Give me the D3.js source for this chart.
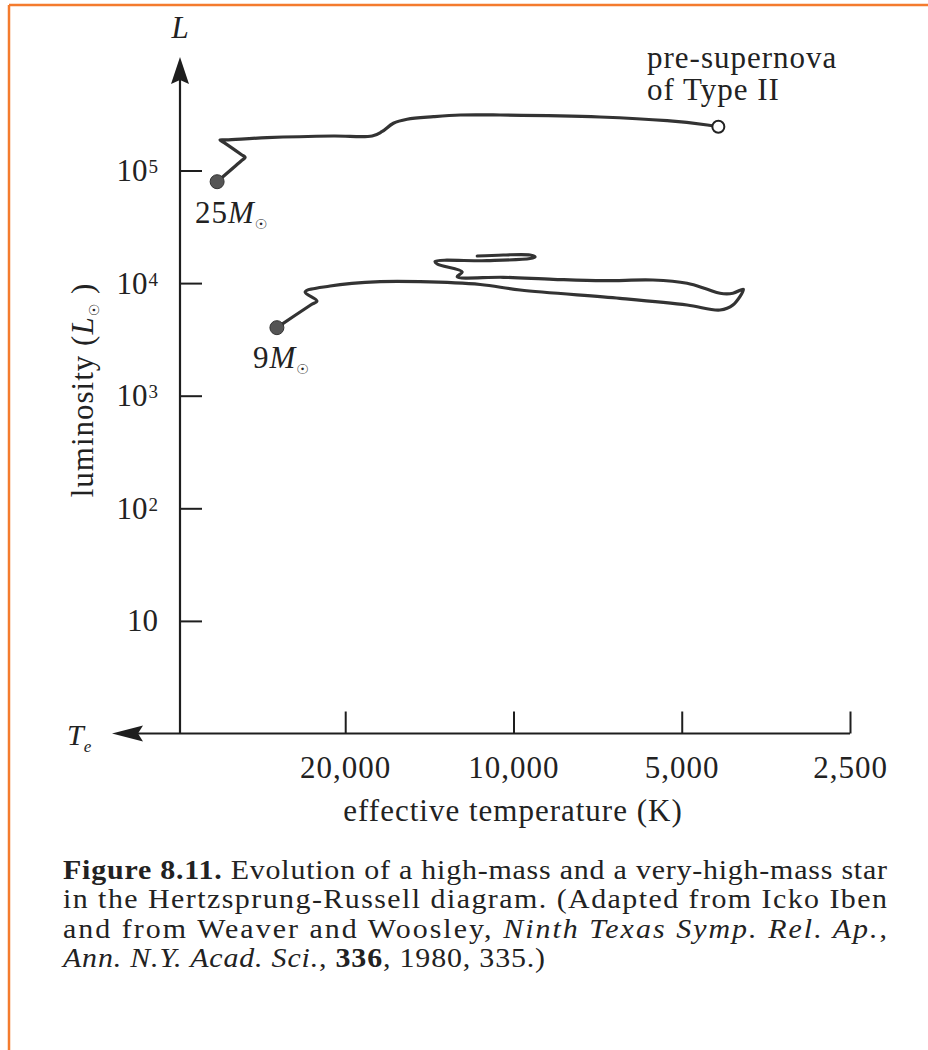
<!DOCTYPE html>
<html>
<head>
<meta charset="utf-8">
<script src="https://cdn.jsdelivr.net/npm/d3@7"></script>
<style>
  html, body { margin: 0; padding: 0; background: #fff; }
  svg { display: block; }
  text { font-family: "Liberation Serif", "DejaVu Serif", serif; fill: #222; }
</style>
</head>
<body>
<div id="chart"></div>
<script>
// effective temperature ticks (K) and luminosity ticks (L_sun)
const tempTicks = [20000, 10000, 5000, 2500];
const tempTickLabels = ["20,000", "10,000", "5,000", "2,500"];
const lumTicks = [10, 100, 1000, 10000, 100000];
const lumTickExp = ["", "2", "3", "4", "5"];

// axis origin
const tempMax = 39500;
const lumMin = 1;

// 25 M_sun track (T in K, L in L_sun)
const track25T = [33900, 30710, 30200, 30650, 32940, 33500, 32650, 27600, 21000, 17900, 17200, 16400, 15500, 13900, 12450, 10560, 7000, 5310, 4500, 4300];
const track25L = [79500, 121450, 131000, 138100, 176900, 186600, 187000, 195600, 202500, 202500, 221000, 262600, 284900, 300500, 311200, 311200, 298700, 276900, 253600, 244900];

// 9 M_sun track
const track9T = [26500, 23060, 22470, 23590, 21280, 17310, 14690, 11470, 9730, 6450, 4890, 4270, 4050, 3880, 4050, 4270, 4500, 4890, 5630, 6910, 8490, 10430, 12610, 12350, 13690, 13810, 11150, 9340, 9150, 9340, 10430, 11610];
const track9L = [4020, 6390, 6940, 8340, 9420, 10290, 10290, 9720, 8680, 7330, 6390, 5770, 6390, 8810, 8120, 8120, 8810, 9960, 10650, 10500, 10810, 11260, 11400, 12550, 14770, 15550, 15810, 16540, 17050, 17770, 17770, 17400];

const width = 928, height = 1050;
const fs = 31, ls = '1px';

const svg = d3.select('#chart')
  .append('svg')
  .attr('width', width)
  .attr('height', height);

// page border
svg.append('line').attr('x1', 9).attr('y1', 5).attr('x2', width).attr('y2', 5)
  .attr('stroke', '#f47b2e').attr('stroke-width', 2.5);
svg.append('line').attr('x1', 9).attr('y1', 5).attr('x2', 9).attr('y2', height)
  .attr('stroke', '#f47b2e').attr('stroke-width', 2.5);

// scales
const x = d3.scaleLog().domain([tempMax, 2500]).range([180, 850]);
const y = d3.scaleLog().domain([lumMin, 100000]).range([733.5, 170.5]);

const x0 = x(tempMax), y0 = y(lumMin);
const axisColor = '#1e1e1e';

// x axis (ticks point up, labels below)
const xAxis = d3.axisBottom(x)
  .tickValues(tempTicks)
  .tickFormat((d, i) => tempTickLabels[i])
  .tickSizeInner(-22)
  .tickSizeOuter(0)
  .tickPadding(22);

const gx = svg.append('g')
  .attr('transform', `translate(0,${y0})`)
  .call(xAxis);
gx.select('.domain').remove();
gx.selectAll('.tick line').attr('stroke', axisColor).attr('stroke-width', 2);
gx.selectAll('.tick text')
  .attr('font-size', fs)
  .attr('font-family', 'Liberation Serif')
  .attr('letter-spacing', ls)
  .attr('fill', '#222');

svg.append('line')
  .attr('x1', 138).attr('x2', x(2500))
  .attr('y1', y0).attr('y2', y0)
  .attr('stroke', axisColor).attr('stroke-width', 2.2);
svg.append('path')
  .attr('d', `M112,${y0} L143,${y0 - 8} L138,${y0} L143,${y0 + 8} Z`)
  .attr('fill', axisColor);

// y axis (ticks point right, labels on the left)
const yAxis = d3.axisLeft(y)
  .tickValues(lumTicks)
  .tickFormat(() => '')
  .tickSizeInner(-22)
  .tickSizeOuter(0)
  .tickPadding(22);

const gy = svg.append('g')
  .attr('transform', `translate(${x0},0)`)
  .call(yAxis);
gy.select('.domain').remove();
gy.selectAll('.tick line').attr('stroke', axisColor).attr('stroke-width', 2);
gy.selectAll('.tick text')
  .attr('font-size', fs)
  .attr('font-family', 'Liberation Serif')
  .attr('fill', '#222')
  .each(function(d, i) {
    const t = d3.select(this);
    t.text(null);
    t.append('tspan').text('10');
    if (lumTickExp[i]) {
      t.append('tspan').text(lumTickExp[i])
        .attr('font-size', 19)
        .attr('dx', 1)
        .attr('dy', '-0.42em');
    }
  });

svg.append('line')
  .attr('x1', x0).attr('x2', x0)
  .attr('y1', y0).attr('y2', 80)
  .attr('stroke', axisColor).attr('stroke-width', 2.2);
svg.append('path')
  .attr('d', `M${x0},57 L${x0 - 9},84 L${x0},80 L${x0 + 9},84 Z`)
  .attr('fill', axisColor);

// axis symbols and titles
svg.append('text')
  .attr('x', x0).attr('y', 38)
  .attr('text-anchor', 'middle')
  .attr('font-size', 31)
  .attr('font-style', 'italic')
  .text('L');

const te = svg.append('text')
  .attr('x', 67).attr('y', 745)
  .attr('font-size', 30)
  .attr('font-style', 'italic');
te.append('tspan').text('T');
te.append('tspan').text('e').attr('font-size', 17).attr('dy', 7);

svg.append('text')
  .attr('x', 513).attr('y', 821)
  .attr('text-anchor', 'middle')
  .attr('font-size', fs)
  .attr('letter-spacing', ls)
  .text('effective temperature (K)');

const ylab = svg.append('text')
  .attr('transform', 'translate(93,390) rotate(-90)')
  .attr('text-anchor', 'middle')
  .attr('letter-spacing', ls)
  .attr('font-size', fs);
ylab.append('tspan').text('luminosity (');
ylab.append('tspan').text('L').attr('font-style', 'italic');
ylab.append('tspan').text('☉').attr('font-size', 14).attr('dy', 6)
  .attr('font-family', 'DejaVu Sans');
ylab.append('tspan').text(' )').attr('dy', -6);

// tracks
const line = d3.line()
  .x(d => x(d[0]))
  .y(d => y(d[1]))
  .curve(d3.curveCatmullRom.alpha(0.5));

const track25 = track25T.map((t, i) => [t, track25L[i]]);
const track9 = track9T.map((t, i) => [t, track9L[i]]);

svg.selectAll('.track')
  .data([track25, track9])
  .enter()
  .append('path')
  .attr('class', 'track')
  .attr('d', line)
  .attr('fill', 'none')
  .attr('stroke', '#333')
  .attr('stroke-width', 3.2)
  .attr('stroke-linejoin', 'round')
  .attr('stroke-linecap', 'round');

// starting points on the main sequence
svg.selectAll('.start')
  .data([track25[0], track9[0]])
  .enter()
  .append('circle')
  .attr('class', 'start')
  .attr('cx', d => x(d[0]))
  .attr('cy', d => y(d[1]))
  .attr('r', 7)
  .attr('fill', '#555')
  .attr('stroke', '#333')
  .attr('stroke-width', 1);

// pre-supernova end point
const last25 = track25[track25.length - 1];
svg.append('circle')
  .attr('cx', x(last25[0]))
  .attr('cy', y(last25[1]))
  .attr('r', 6)
  .attr('fill', '#fff')
  .attr('stroke', '#222')
  .attr('stroke-width', 2);

// mass labels
function massLabel(px, py, num) {
  const t = svg.append('text').attr('x', px).attr('y', py).attr('font-size', fs)
    .attr('letter-spacing', ls);
  t.append('tspan').text(num);
  t.append('tspan').text('M').attr('font-style', 'italic');
  t.append('tspan').text('☉').attr('font-size', 14).attr('dy', 6)
    .attr('font-family', 'DejaVu Sans');
}
massLabel(195, 223, '25');
massLabel(253, 368, '9');

svg.append('text').attr('x', 647).attr('y', 68).attr('font-size', fs)
  .attr('letter-spacing', ls).text('pre-supernova');
svg.append('text').attr('x', 647).attr('y', 100).attr('font-size', fs)
  .attr('letter-spacing', ls).text('of Type II');

// caption (slightly widened glyphs, justified lines)
const capX = 63, capW = 824, capFs = 26.5, capLh = 29.4, capY = 879, capSx = 1.13;
function capLine(i, w) {
  return svg.append('text')
    .attr('transform', `translate(${capX},${capY + i * capLh}) scale(${capSx},1)`)
    .attr('font-size', capFs)
    .attr('textLength', w / capSx)
    .attr('lengthAdjust', 'spacing');
}
const cap1 = capLine(0, capW);
cap1.append('tspan').text('Figure 8.11.').attr('font-weight', 'bold');
cap1.append('tspan').text(' Evolution of a high-mass and a very-high-mass star');

capLine(1, capW).text('in the Hertzsprung-Russell diagram. (Adapted from Icko Iben');

const cap3 = capLine(2, capW);
cap3.append('tspan').text('and from Weaver and Woosley, ');
cap3.append('tspan').text('Ninth Texas Symp. Rel. Ap.').attr('font-style', 'italic');
cap3.append('tspan').text(',');

const cap4 = capLine(3, 482);
cap4.append('tspan').text('Ann. N.Y. Acad. Sci.').attr('font-style', 'italic');
cap4.append('tspan').text(', ');
cap4.append('tspan').text('336').attr('font-weight', 'bold');
cap4.append('tspan').text(', 1980, 335.)');
</script>
</body>
</html>
